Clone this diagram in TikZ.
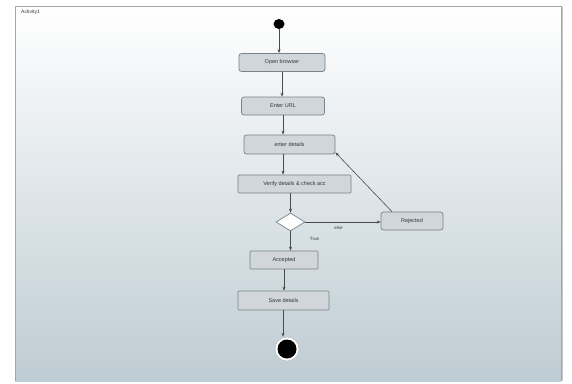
\documentclass[tikz,border=0pt]{standalone}
\usepackage{fontspec}
\setmainfont{Liberation Sans}
\usetikzlibrary{arrows.meta,shapes.geometric,calc}
\definecolor{boxfill}{RGB}{208,214,218}
\definecolor{boxline}{RGB}{120,130,136}
\definecolor{flowline}{RGB}{70,76,80}
\definecolor{bgbottom}{RGB}{190,204,211}
\definecolor{txt}{RGB}{50,55,60}
\tikzset{
  action/.style={draw=boxline, fill=boxfill, rounded corners=2.5pt, line width=0.7pt,
    minimum height=18pt, inner sep=0pt, text=txt, font=\fontsize{5.5}{6}\selectfont},
  decision/.style={diamond, draw=boxline, fill=white, line width=0.7pt, inner sep=0pt,
    minimum width=29pt, minimum height=18pt, aspect=1.6},
  flow/.style={draw=flowline, line width=0.6pt, -{Stealth[length=4pt,width=3pt]}},
  guard/.style={text=txt, font=\fontsize{4.5}{5}\selectfont, inner sep=0pt},
}
\begin{document}
\begin{tikzpicture}[x=1pt,y=-1pt]
  \useasboundingbox (0,0) rectangle (572,383);
  \fill[white] (0,0) rectangle (572,383);
  % activity frame with its gradient
  \shade[top color=white, bottom color=bgbottom, middle color=white!50!bgbottom]
    (15,6) rectangle (561,381);
  \draw[gray!70, line width=0.8pt] (15,381) -- (15,6) -- (561,6) -- (561,381);
  \draw[gray!45, line width=1pt] (562.5,7) -- (562.5,381);
  \node[guard, anchor=west, font=\fontsize{5}{6}\selectfont] (title) at (21,12) {Activity1};

  % nodes
  \node[ellipse, fill=black, minimum width=11pt, minimum height=10pt, inner sep=0pt] (start) at (279,24) {};
  \node[action, minimum width=86pt] (open) at (282,62.5) {Open browser};
  \node[action, minimum width=83pt] (url) at (283,106) {Enter URL};
  \node[action, minimum width=91pt, minimum height=19pt] (details) at (289.5,144.5) {enter details};
  \node[action, minimum width=113pt, rounded corners=1pt] (verify) at (294.5,184) {Verify details \& check acc};
  \node[decision] (check) at (290.5,222) {};
  \node[action, minimum width=62pt] (rejected) at (412,221) {Rejected};
  \node[action, minimum width=68pt, rounded corners=1pt] (accepted) at (284,260) {Accepted};
  \node[action, minimum width=91pt, minimum height=19pt, rounded corners=1pt] (save) at (283.5,300.5) {Save details};
  \node[circle, draw=gray!60, fill=white, line width=0.4pt, minimum size=24pt, inner sep=0pt] (endring) at (287,349) {};
  \node[circle, fill=black, minimum size=19pt, inner sep=0pt] (end) at (287,349) {};

  % control flow
  \draw[flow] (start.south) -- (start.south |- open.north);
  \draw[flow] (open.south) -- (open.south |- url.north);
  \draw[flow] (url.south) -- (url.south |- details.north);
  \draw[flow] (details.south -| url.south) -- (verify.north -| url.south);
  \draw[flow] (check.north |- verify.south) -- (check.north);
  \draw[flow] (check.south) -- (check.south |- accepted.north);
  \draw[flow] (check.east) -- (check.east -| rejected.west);
  \draw[flow] ($(rejected.north west)!0.18!(rejected.north east)$) -- ($(details.south east)+(0,-2)$);
  \draw[flow] (accepted.south) -- (accepted.south |- save.north);
  \draw[flow] (save.south -| url.south) -- (endring.north -| url.south);

  % guards
  \node[guard] (gelse) at (338.5,228) {else};
  \node[guard] (gtrue) at (314.5,238.5) {True};
\end{tikzpicture}
\end{document}
